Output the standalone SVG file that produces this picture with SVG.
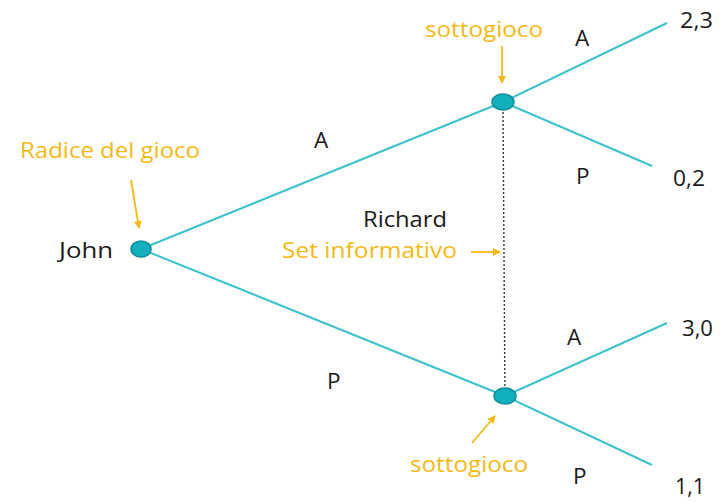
<svg xmlns="http://www.w3.org/2000/svg" width="724" height="502" viewBox="0 0 724 502">
<style>
.t{font-family:"Open Sans",Lato,sans-serif;font-size:22.5px;fill:#1a1a1a}
.o{font-family:"Open Sans",Lato,sans-serif;font-size:22.5px;fill:#F5B915}
.e{stroke:#3CC0CC;stroke-width:2;fill:none}
.n{fill:#12AFBD;stroke:#0E8E99;stroke-width:1.5}
.a{stroke:#F5B915;stroke-width:1.8;fill:none;marker-end:url(#ah)}
</style>
<defs>
<marker id="ah" markerWidth="8" markerHeight="8" refX="7" refY="4" orient="auto" markerUnits="userSpaceOnUse"><path d="M0,0 L8,4 L0,8 Z" fill="#F5B915"/></marker>
</defs>
<rect width="724" height="502" fill="#fff"/>
<g id="connectors">
<line class="e" x1="141" y1="249" x2="503" y2="102"/>
<line class="e" x1="141" y1="249" x2="505" y2="396"/>
<line class="e" x1="503" y1="102" x2="667" y2="23"/>
<line class="e" x1="503" y1="102" x2="652" y2="166"/>
<line class="e" x1="505" y1="396" x2="667" y2="323"/>
<line class="e" x1="505" y1="396" x2="652" y2="465"/>
<line x1="503" y1="108" x2="505" y2="400" stroke="#333" stroke-width="1.4" stroke-dasharray="2,2"/>
<line class="a" x1="502" y1="46" x2="502" y2="83"/>
<line class="a" x1="131" y1="180" x2="139" y2="228"/>
<line class="a" x1="471" y1="252" x2="500" y2="252"/>
<line class="a" x1="472" y1="443" x2="495" y2="416"/>
</g>
<g id="john"><ellipse class="n" cx="141" cy="249" rx="10" ry="8"/><text class="t" x="59" y="258" textLength="54" lengthAdjust="spacingAndGlyphs">John</text></g>
<g id="richard-top"><ellipse class="n" cx="503" cy="102" rx="11" ry="8"/></g>
<g id="richard-bottom"><ellipse class="n" cx="505" cy="396" rx="11" ry="8"/></g>
<g id="labels">
<text class="o" x="20" y="158" textLength="180" lengthAdjust="spacingAndGlyphs">Radice del gioco</text>
<text class="o" x="425" y="37" textLength="118" lengthAdjust="spacingAndGlyphs">sottogioco</text>
<text class="o" x="410" y="472" textLength="118" lengthAdjust="spacingAndGlyphs">sottogioco</text>
<text class="o" x="282" y="258" textLength="175" lengthAdjust="spacingAndGlyphs">Set informativo</text>
<text class="t" x="363" y="227" textLength="84" lengthAdjust="spacingAndGlyphs">Richard</text>
<text class="t" x="314" y="148">A</text>
<text class="t" x="327" y="389">P</text>
<text class="t" x="575" y="46">A</text>
<text class="t" x="576" y="184">P</text>
<text class="t" x="567" y="345">A</text>
<text class="t" x="573" y="484">P</text>
<text class="t" x="680" y="28" textLength="33" lengthAdjust="spacingAndGlyphs">2,3</text>
<text class="t" x="673" y="186" textLength="32" lengthAdjust="spacingAndGlyphs">0,2</text>
<text class="t" x="682" y="336" textLength="31" lengthAdjust="spacingAndGlyphs">3,0</text>
<text class="t" x="675" y="494" textLength="30" lengthAdjust="spacingAndGlyphs">1,1</text>
</g>
</svg>
